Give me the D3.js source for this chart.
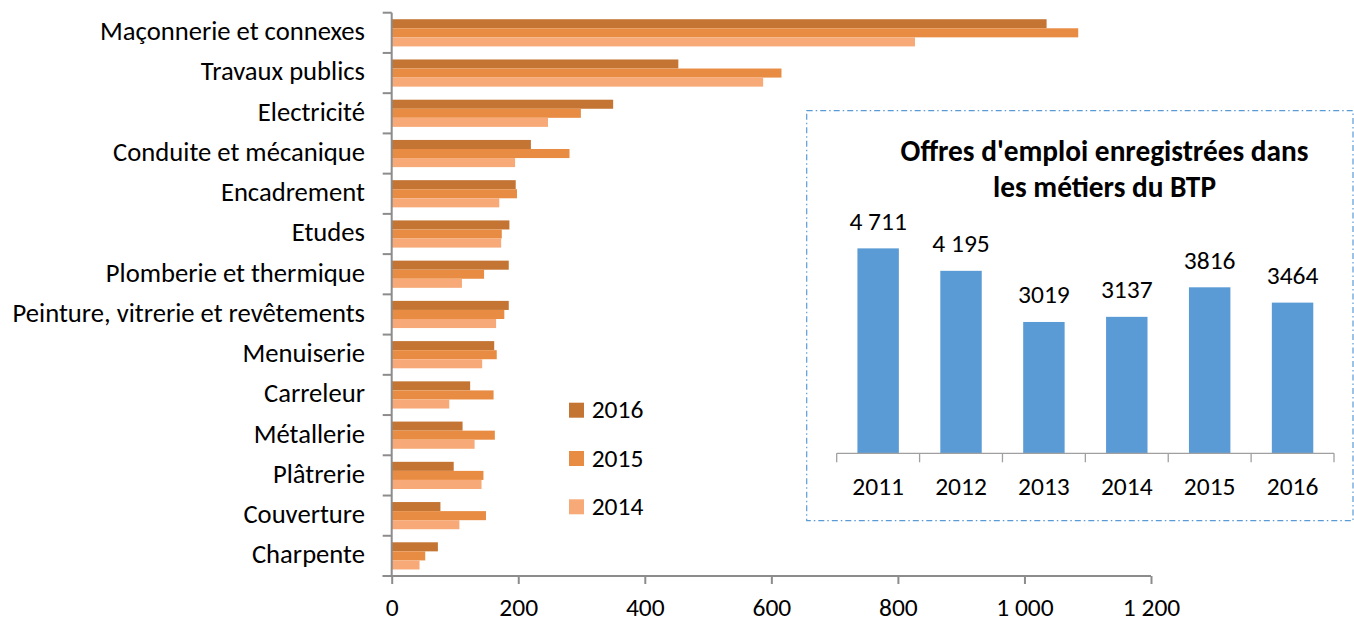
<!DOCTYPE html>
<html>
<head>
<meta charset="utf-8">
<script src="https://cdn.jsdelivr.net/npm/d3@7"></script>
<style>
  html, body { margin: 0; padding: 0; background: #ffffff; }
  svg { display: block; }
</style>
</head>
<body>
<script>
// ---------- DATA ----------
const categories = [
  "Maçonnerie et connexes", "Travaux publics", "Electricité", "Conduite et mécanique",
  "Encadrement", "Etudes", "Plomberie et thermique", "Peinture, vitrerie et revêtements",
  "Menuiserie", "Carreleur", "Métallerie", "Plâtrerie", "Couverture", "Charpente"
];
const seriesYears = ["2016", "2015", "2014"];
const values2016 = [1035, 453, 350, 220, 196, 186, 185, 185, 162, 124, 112, 98, 77, 73];
const values2015 = [1085, 616, 299, 281, 198, 174, 146, 178, 166, 161, 163, 145, 149, 53];
const values2014 = [827, 587, 247, 195, 170, 173, 111, 165, 143, 91, 131, 142, 107, 44];
const xTicks = [0, 200, 400, 600, 800, 1000, 1200];

const insetTitle = ["Offres d'emploi enregistrées dans", "les métiers du BTP"];
const insetYears = ["2011", "2012", "2013", "2014", "2015", "2016"];
const insetValues = [4711, 4195, 3019, 3137, 3816, 3464];
const insetLabels = ["4 711", "4 195", "3019", "3137", "3816", "3464"];

// ---------- STYLE ----------
const FONT = "Carlito, Calibri, Lato, 'Open Sans', sans-serif";
const colors = { "2016": "#C47534", "2015": "#E98C43", "2014": "#F7AA78" };
const insetColor = "#5B9BD5";
const axisColor = "#8C8C8C";

const W = 1354, H = 622;
const svg = d3.select("body").append("svg").attr("width", W).attr("height", H);

function fitSize(text, target, weight) {
  const t = svg.append("text").attr("font-family", FONT).attr("font-size", 100)
    .attr("font-weight", weight || 400).text(text);
  const w = t.node().getComputedTextLength();
  t.remove();
  return 100 * target / w;
}
const labelSize = fitSize("Maçonnerie et connexes", 265);
const digitSize = fitSize("2011", 51.7);
const titleSize = fitSize(insetTitle[0], 408, 700);

// ---------- MAIN CHART ----------
const seriesByYear = { "2016": values2016, "2015": values2015, "2014": values2014 };
const rows = categories.map((c, i) => ({
  cat: c,
  vals: seriesYears.map(y => ({ year: y, value: seriesByYear[y][i] }))
}));

const x = d3.scaleLinear().domain([0, 1200]).range([391.7, 1151]);
const y = d3.scaleBand().domain(categories).range([12.7, 576]).padding(0);
const ySub = d3.scaleBand().domain(seriesYears).range([0, y.bandwidth()])
  .paddingInner(0).paddingOuter(0.72);

const main = svg.append("g");

const groups = main.selectAll("g.row").data(rows).join("g")
  .attr("class", "row")
  .attr("transform", d => `translate(0,${y(d.cat)})`);

groups.selectAll("rect").data(d => d.vals).join("rect")
  .attr("x", x(0))
  .attr("y", d => ySub(d.year))
  .attr("width", d => x(d.value) - x(0))
  .attr("height", ySub.bandwidth())
  .attr("fill", d => colors[d.year]);

// category labels
main.selectAll("text.cat").data(categories).join("text")
  .attr("class", "cat")
  .attr("x", 365)
  .attr("y", d => y(d) + y.bandwidth() / 2 + 7.4)
  .attr("text-anchor", "end")
  .attr("font-family", FONT)
  .attr("font-size", labelSize)
  .attr("fill", "#000")
  .text(d => d);

// y axis line + ticks at band boundaries
const bounds = categories.map(c => y(c)).concat([y.range()[1]]);
main.append("line")
  .attr("x1", x(0)).attr("x2", x(0))
  .attr("y1", y.range()[0]).attr("y2", y.range()[1])
  .attr("stroke", axisColor).attr("stroke-width", 2);
main.selectAll("line.ytick").data(bounds).join("line")
  .attr("class", "ytick")
  .attr("x1", x(0) - 9).attr("x2", x(0))
  .attr("y1", d => d).attr("y2", d => d)
  .attr("stroke", axisColor).attr("stroke-width", 2);

// x axis
const fmtSpace = v => d3.format(",")(v).replace(/,/g, " ");
const xAxis = d3.axisBottom(x).tickValues(xTicks).tickSize(8).tickSizeOuter(0).tickFormat(fmtSpace);
const xg = main.append("g").attr("transform", `translate(0,${y.range()[1]})`).call(xAxis);
xg.select(".domain").remove();
xg.selectAll(".tick line").attr("stroke", axisColor).attr("stroke-width", 2);
xg.selectAll(".tick text")
  .attr("y", 39.5).attr("dy", 0)
  .attr("font-family", FONT).attr("font-size", digitSize).attr("fill", "#000");
xg.append("line")
  .attr("x1", x(0) - 9).attr("x2", x(1200))
  .attr("y1", 0).attr("y2", 0)
  .attr("stroke", axisColor).attr("stroke-width", 2);

// legend
const legend = main.append("g");
const legendY = d3.scalePoint().domain(seriesYears).range([402.7, 499.3]);
legend.selectAll("rect").data(seriesYears).join("rect")
  .attr("x", 569).attr("y", d => legendY(d))
  .attr("width", 15).attr("height", 15)
  .attr("fill", d => colors[d]);
legend.selectAll("text").data(seriesYears).join("text")
  .attr("x", 591.7).attr("y", d => legendY(d) + 15.6)
  .attr("font-family", FONT).attr("font-size", digitSize).attr("fill", "#000")
  .text(d => d);

// ---------- INSET CHART ----------
const inset = svg.append("g");
inset.append("rect")
  .attr("x", 806.7).attr("y", 110.7)
  .attr("width", 1353 - 806.7).attr("height", 520.7 - 110.7)
  .attr("fill", "#fff")
  .attr("stroke", insetColor).attr("stroke-width", 1.2)
  .attr("stroke-dasharray", "6,3,1.5,3");

const ix = d3.scaleBand().domain(insetYears).range([836.7, 1334])
  .paddingInner(0.5).paddingOuter(0.25);
const iy = d3.scaleLinear().domain([0, 5000]).range([453.3, 453.3 - 5000 * 0.0435]);
const insetData = insetYears.map((yr, i) => ({ year: yr, value: insetValues[i], label: insetLabels[i] }));

inset.selectAll("rect.bar").data(insetData).join("rect")
  .attr("class", "bar")
  .attr("x", d => ix(d.year))
  .attr("y", d => iy(d.value))
  .attr("width", ix.bandwidth())
  .attr("height", d => iy(0) - iy(d.value))
  .attr("fill", insetColor);

inset.selectAll("text.val").data(insetData).join("text")
  .attr("class", "val")
  .attr("x", d => ix(d.year) + ix.bandwidth() / 2)
  .attr("y", d => iy(d.value) - 18.5)
  .attr("text-anchor", "middle")
  .attr("font-family", FONT).attr("font-size", digitSize).attr("fill", "#000")
  .text(d => d.label);

// inset axis
const step = ix.step();
const iBounds = insetYears.map(yr => ix(yr) - step * 0.25).concat([ix.range()[1]]);
inset.append("line")
  .attr("x1", ix.range()[0]).attr("x2", ix.range()[1])
  .attr("y1", iy(0)).attr("y2", iy(0))
  .attr("stroke", "#A0A0A0").attr("stroke-width", 1.3);
inset.selectAll("line.itick").data(iBounds).join("line")
  .attr("class", "itick")
  .attr("x1", d => d).attr("x2", d => d)
  .attr("y1", iy(0)).attr("y2", iy(0) + 9)
  .attr("stroke", "#A0A0A0").attr("stroke-width", 1.3);
inset.selectAll("text.yr").data(insetYears).join("text")
  .attr("class", "yr")
  .attr("x", d => ix(d) + ix.bandwidth() / 2)
  .attr("y", 495)
  .attr("text-anchor", "middle")
  .attr("font-family", FONT).attr("font-size", digitSize).attr("fill", "#000")
  .text(d => d);

// inset title
inset.selectAll("text.title").data(insetTitle).join("text")
  .attr("class", "title")
  .attr("x", 1104.5)
  .attr("y", (d, i) => 161 + i * 35.7)
  .attr("text-anchor", "middle")
  .attr("font-family", FONT).attr("font-size", titleSize).attr("font-weight", 700)
  .attr("fill", "#000")
  .text(d => d);
</script>
</body>
</html>
